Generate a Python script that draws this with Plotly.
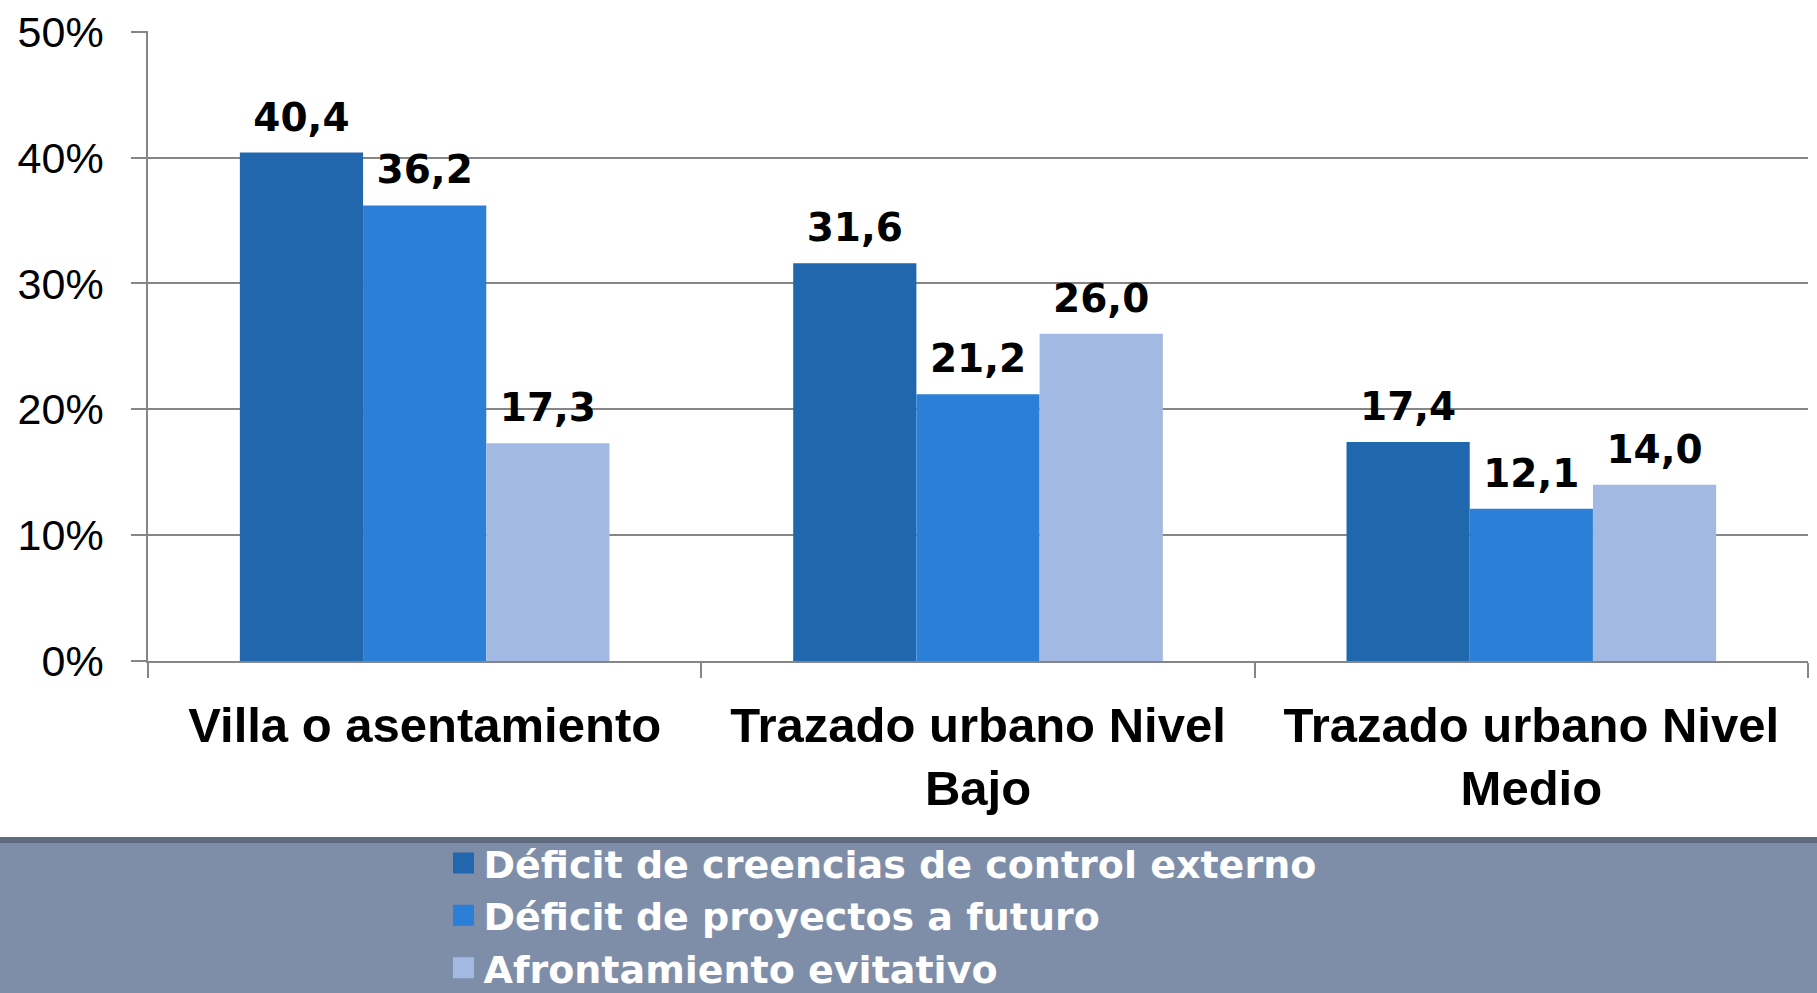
import plotly.graph_objects as go

categories = ["Villa o asentamiento", "Trazado urbano Nivel<br>Bajo", "Trazado urbano Nivel<br>Medio"]
series_names = ["Déficit de creencias de control externo", "Déficit de proyectos a futuro", "Afrontamiento evitativo"]
control_externo = [40.4, 31.6, 17.4]
proyectos_futuro = [36.2, 21.2, 12.1]
afrontamiento = [17.3, 26.0, 14.0]
y_ticks = [0, 10, 20, 30, 40, 50]
y_tick_labels = ["0%", "10%", "20%", "30%", "40%", "50%"]

series_values = [control_externo, proyectos_futuro, afrontamiento]
colors = ["#2167AE", "#2B7FD7", "#A2B9E3"]
GAP = 0.332

fig = go.Figure()
for name, vals, col in zip(series_names, series_values, colors):
    fig.add_trace(go.Bar(x=categories, y=vals, name=name, legendgroup=name, showlegend=False,
                         marker=dict(color=col, line=dict(width=0)), hoverinfo="skip"))
for name, vals in zip(series_names, series_values):
    fig.add_trace(go.Scatter(x=categories, y=vals, mode="markers+text", showlegend=False,
                             marker=dict(size=18, opacity=0),
                             texttemplate="%{y:.1f}", textposition="top center",
                             textfont=dict(family="DejaVu Sans", size=39, color="black", weight="bold"),
                             hoverinfo="skip", cliponaxis=False))
# legend entries (square swatches), on hidden overlay axes so they do not affect grouping
for name, col in zip(series_names, colors):
    fig.add_trace(go.Scatter(x=[None], y=[None], mode="markers", name=name, legendgroup=name,
                             marker=dict(symbol="square", size=16, color=col, line=dict(width=5, color=col)),
                             xaxis="x2", yaxis="y2", hoverinfo="skip"))

axis_gray = "#868686"
fig.update_layout(
    width=1817, height=993,
    margin=dict(l=148, r=9, t=31, b=332, autoexpand=False),
    paper_bgcolor="white", plot_bgcolor="white",
    barmode="group", bargap=GAP, bargroupgap=0,
    scattermode="group", scattergap=GAP,
    separators=",.",
    showlegend=True,
    legend=dict(orientation="v", x=0.178, xanchor="left", y=-0.271, yanchor="top",
                bgcolor="rgba(0,0,0,0)", font=dict(family="DejaVu Sans", size=38, color="white", weight="bold"),
                itemwidth=30, tracegroupgap=0, itemclick=False, itemdoubleclick=False),
    xaxis2=dict(overlaying="x", visible=False, range=[0, 1]),
    yaxis2=dict(overlaying="y", visible=False, range=[0, 1]),
    shapes=[
        dict(type="rect", xref="paper", yref="paper", x0=-0.2, x1=1.2, y0=-0.2889, y1=-0.7,
             fillcolor="#7F8EA8", line=dict(width=0), layer="below"),
        dict(type="rect", xref="paper", yref="paper", x0=-0.2, x1=1.2, y0=-0.2794, y1=-0.2889,
             fillcolor="#5F6B7F", line=dict(width=0), layer="below"),
    ],
)
fig.update_layout(yaxis=dict(range=[0, 50.06], tickmode="array", tickvals=y_ticks, ticktext=y_tick_labels,
                             showgrid=True, gridcolor=axis_gray, gridwidth=1.5,
                             showline=True, linecolor=axis_gray, linewidth=1.5,
                             ticks="outside", ticklen=15, tickcolor=axis_gray, tickwidth=1.5,
                             tickfont=dict(family="Liberation Sans", size=43, color="black"),
                             ticklabelstandoff=19, ticklabeloverflow="allow",
                             zeroline=False, automargin=False),
                  xaxis=dict(showline=True, linecolor=axis_gray, linewidth=1.5,
                             ticks="outside", tickson="boundaries", ticklen=15, tickcolor=axis_gray, tickwidth=1.5,
                             tickfont=dict(family="Liberation Sans", size=49, color="black", weight="bold"),
                             ticklabelstandoff=20, automargin=False))

fig.write_html("out.html", config={"displayModeBar": False},
               post_script="document.body.style.margin='0';document.body.style.overflow='hidden';")
